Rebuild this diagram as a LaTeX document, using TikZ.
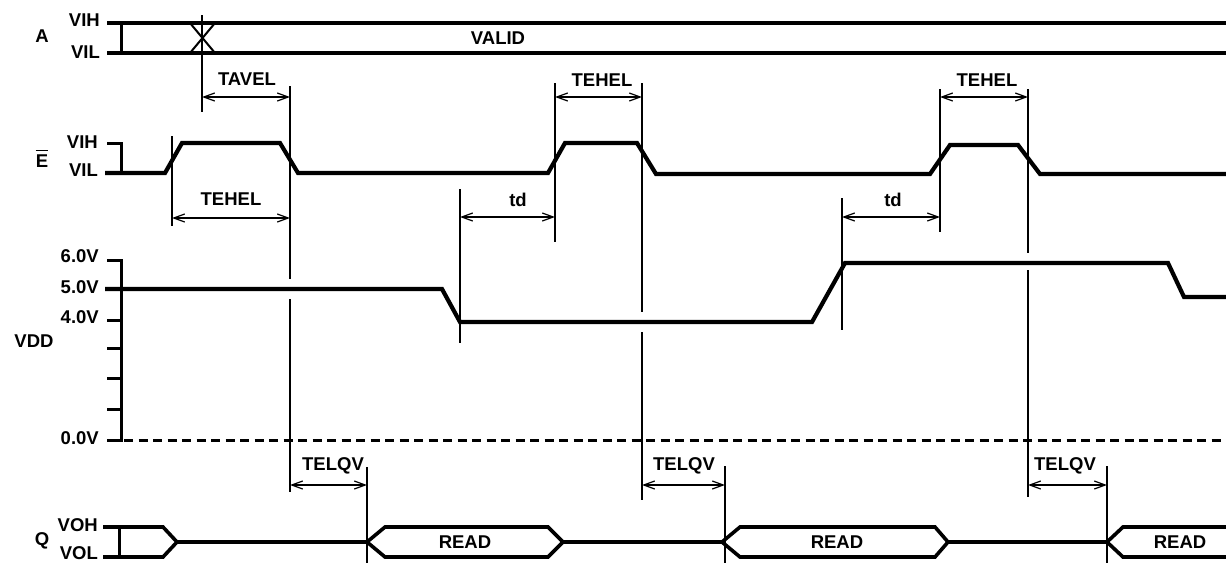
\documentclass[tikz,border=0pt]{standalone}
\usepackage{fontspec}
\setmainfont{Liberation Sans}
\usetikzlibrary{arrows.meta}
\begin{document}
\begin{tikzpicture}[x=1pt,y=-1pt,
  sig/.style={line width=4.2pt,line join=miter},
  qsig/.style={line width=3.6pt,line join=miter},
  tick/.style={line width=3pt},
  guide/.style={line width=1.2pt},
  dim/.style={line width=1.2pt,{Straight Barb[length=11pt,width=8pt,line width=1.2pt]}-{Straight Barb[length=11pt,width=8pt,line width=1.2pt]}},
  lbl/.style={font=\fontsize{18.5}{21}\selectfont\bfseries,inner sep=0pt},
  rlbl/.style={lbl,anchor=east},
  ]
\useasboundingbox (0,0) rectangle (1226,563);
% ---------- A ----------
\node[lbl] (lA) at (42,36) {A};
\node[rlbl] (lAvih) at (100,20) {VIH};
\node[rlbl] (lAvil) at (100,52) {VIL};
\draw[sig] (107,23) -- (1226,23);
\draw[sig] (107,53) -- (1226,53);
\draw[tick] (121,23) -- (121,53);
\draw[line width=2pt] (190,53) -- (215,23) (190,23) -- (215,53);
\node[lbl] (valid) at (498,38) {VALID};
% ---------- E ----------
\node[lbl] (lE) at (42,161) {E};
\draw[line width=1.8pt] ([yshift=4pt]lE.north west) -- ([yshift=4pt]lE.north east);
\node[rlbl] (lEvih) at (98,142) {VIH};
\node[rlbl] (lEvil) at (98,170) {VIL};
\draw[tick] (107,143) -- (121,143) -- (121,173);
\draw[sig] (105,173) -- (165,173) -- (182,143) -- (280,143) -- (298,173)
  -- (548,173) -- (565,143) -- (637,143) -- (656,174)
  -- (930,174) -- (950,145) -- (1018,145) -- (1040,174) -- (1226,174);
% ---------- VDD ----------
\node[lbl] (lVDD) at (34,341) {VDD};
\node[rlbl] (l6) at (99,256) {6.0V};
\node[rlbl] (l5) at (99,287) {5.0V};
\node[rlbl] (l4) at (99,317) {4.0V};
\node[rlbl] (l0) at (99,438) {0.0V};
\draw[tick] (107,260) -- (121,260) -- (121,440) -- (107,440);
\foreach \yy in {320,348,378,409} \draw[tick] (107,\yy) -- (121,\yy);
\draw[line width=3pt,dash pattern=on 9pt off 5.5pt] (124,440) -- (1226,440);
\draw[sig] (105,289) -- (442,289) -- (460,322) -- (812,322) -- (845,263)
  -- (1168,263) -- (1184,297) -- (1226,297);
% ---------- Q ----------
\node[lbl] (lQ) at (42,541) {Q};
\node[rlbl] (lQvoh) at (98,525) {VOH};
\node[rlbl] (lQvol) at (98,553) {VOL};
\draw[qsig] (103,527) -- (163,527) -- (177,542) -- (163,557) -- (103,557);
\draw[tick] (119,527) -- (119,557);
\draw[qsig] (177,542) -- (367,542);
\draw[qsig] (367,542) -- (385,527) -- (548,527) -- (563,542) -- (548,557) -- (385,557) -- cycle;
\node[lbl] (r1) at (465,542) {READ};
\draw[qsig] (563,542) -- (722,542);
\draw[qsig] (722,542) -- (740,527) -- (935,527) -- (948,542) -- (935,557) -- (740,557) -- cycle;
\node[lbl] (r2) at (837,542) {READ};
\draw[qsig] (948,542) -- (1107,542);
\draw[qsig] (1230,527) -- (1123,527) -- (1107,542) -- (1123,557) -- (1230,557);
\node[lbl] (r3) at (1180,542) {READ};
% ---------- guides ----------
\draw[guide] (202,15) -- (202,112);
\draw[guide] (290,86) -- (290,279) (290,299) -- (290,492);
\draw[guide] (172,136) -- (172,226);
\draw[guide] (555,83) -- (555,242);
\draw[guide] (642,83) -- (642,312) (642,332) -- (642,500);
\draw[guide] (460,189) -- (460,343);
\draw[guide] (940,89) -- (940,232);
\draw[guide] (1028,89) -- (1028,253) (1028,270) -- (1028,497);
\draw[guide] (842,198) -- (842,330);
\draw[guide] (367,467) -- (367,563);
\draw[guide] (725,466) -- (725,563);
\draw[guide] (1107,466) -- (1107,563);
% ---------- dimensions ----------
\draw[dim] (202,97) -- (290,97);
\node[lbl] (tavel) at (247,79) {TAVEL};
\draw[dim] (172,218) -- (290,218);
\node[lbl] (tehel1) at (231,199) {TEHEL};
\draw[dim] (555,97) -- (642,97);
\node[lbl] (tehel2) at (602,80) {TEHEL};
\draw[dim] (940,97) -- (1028,97);
\node[lbl] (tehel3) at (987,80) {TEHEL};
\draw[dim] (460,217) -- (555,217);
\node[lbl] (td1) at (518,200) {td};
\draw[dim] (842,217) -- (940,217);
\node[lbl] (td2) at (893,200) {td};
\draw[dim] (290,485) -- (367,485);
\node[lbl] (telqv1) at (333,466) {TELQV};
\draw[dim] (642,485) -- (725,485);
\node[lbl] (telqv2) at (684,466) {TELQV};
\draw[dim] (1028,485) -- (1107,485);
\node[lbl] (telqv3) at (1065,466) {TELQV};
\end{tikzpicture}
\end{document}
